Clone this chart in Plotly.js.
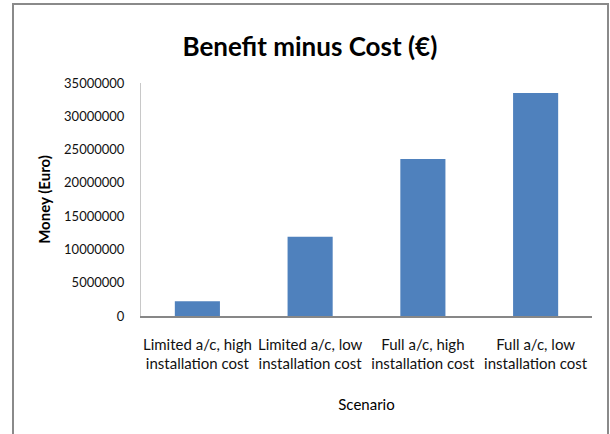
<!DOCTYPE html>
<html>
<head>
<meta charset="utf-8">
<script src="https://cdn.plot.ly/plotly-3.0.1.min.js"></script>
<style>
  html, body { margin: 0; padding: 0; background: #fff; }
  #chart { position: absolute; left: 0; top: 0; width: 610px; height: 434px; }
  #frame { position: absolute; left: 12px; top: 3px; width: 593px; height: 440px;
           border: 2px solid #8a8a8a; border-bottom: none; pointer-events: none; }
</style>
</head>
<body>
<div id="chart"></div>
<div id="frame"></div>
<script>
const categories = [
  "Limited a/c, high<br>installation cost",
  "Limited a/c, low<br>installation cost",
  "Full a/c, high<br>installation cost",
  "Full a/c, low<br>installation cost"
];
const benefitMinusCost = [2200000, 11900000, 23600000, 33500000];
const yTickValues = [0, 5000000, 10000000, 15000000, 20000000, 25000000, 30000000, 35000000];
const yTickLabels = ["0", "5000000", "10000000", "15000000", "20000000", "25000000", "30000000", "35000000"];

const FONT = "Lato, 'Open Sans', sans-serif";

const data = [{
  type: "bar",
  x: categories,
  y: benefitMinusCost,
  marker: { color: "#4f81bd", line: { width: 0 } },
  hoverinfo: "none"
}];

const layout = {
  width: 610,
  height: 434,
  margin: { l: 141, r: 18, t: 83, b: 118 },
  paper_bgcolor: "#ffffff",
  plot_bgcolor: "#ffffff",
  bargap: 0.6,
  showlegend: false,
  font: { family: FONT, color: "#000000", size: 14 },
  title: {
    text: "<b>Benefit minus Cost (€)</b>",
    font: { family: FONT, size: 26, color: "#000000" },
    xref: "container", x: 0.508, xanchor: "center",
    yref: "container", y: 1 - 47 / 434, yanchor: "middle"
  },
  xaxis: {
    type: "category",
    showline: true,
    linecolor: "#878787",
    linewidth: 1.5,
    showgrid: false,
    zeroline: false,
    ticks: "",
    tickfont: { family: FONT, size: 15, color: "#111111" },
    ticklabelstandoff: 14,
    automargin: false,
    title: {
      text: "Scenario",
      font: { family: FONT, size: 15, color: "#000000" },
      standoff: 28
    }
  },
  yaxis: {
    range: [0, 35000000],
    tickmode: "array",
    tickvals: yTickValues,
    ticktext: yTickLabels,
    showline: true,
    linecolor: "#c8c8c8",
    linewidth: 1,
    showgrid: false,
    zeroline: false,
    ticks: "",
    tickfont: { family: FONT, size: 13, color: "#111111" },
    ticklabelstandoff: 13,
    automargin: false,
    title: {
      text: "<b>Money (Euro)</b>",
      font: { family: FONT, size: 15, color: "#000000" },
      standoff: 9
    }
  }
};

Plotly.newPlot("chart", data, layout, { staticPlot: true, displayModeBar: false });
</script>
</body>
</html>
